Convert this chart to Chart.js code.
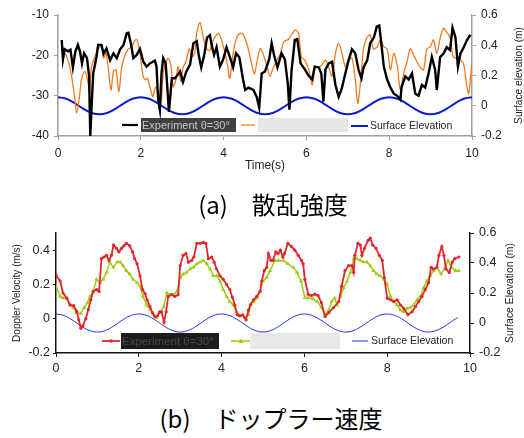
<!DOCTYPE html>
<html>
<head>
<meta charset="utf-8">
<script src="https://cdn.jsdelivr.net/npm/chart.js@4.4.0/dist/chart.umd.min.js"></script>
<style>
  body { margin: 0; background: #fff; width: 524px; height: 438px; position: relative; overflow: hidden; }
  canvas { position: absolute; left: 0; }
  #scatterChart { top: 0; }
  #dopplerChart { top: 220px; }
  .caption {
    position: absolute; transform: translateX(-50%); white-space: nowrap;
    font-family: "Noto Sans CJK JP"; font-size: 24px; line-height: 24px; color: #000;
  }
</style>
</head>
<body>
<canvas id="scatterChart" width="524" height="180"></canvas>
<canvas id="dopplerChart" width="524" height="170"></canvas>
<div class="caption" style="left:273px; top:192px;">(a)　散乱強度</div>
<div class="caption" style="left:271px; top:406px;">(b)　ドップラー速度</div>

<script>
// (a) 散乱強度 - experiment (black)
const expTime = [0.09, 0.12, 0.16, 0.24, 0.30, 0.36, 0.42, 0.48, 0.53, 0.58, 0.63, 0.70, 0.75, 0.78, 0.81, 0.85, 0.93, 0.97,
  1.05, 1.10, 1.17, 1.26, 1.34, 1.42, 1.50, 1.58, 1.66, 1.70, 1.76, 1.82, 1.90, 1.98, 2.06, 2.14, 2.22, 2.34, 2.38, 2.42,
  2.46, 2.50, 2.54, 2.60, 2.64, 2.68, 2.75, 2.83, 2.95, 3.02, 3.10, 3.19, 3.27, 3.35, 3.40, 3.46, 3.53, 3.60, 3.67, 3.71,
  3.77, 3.83, 3.91, 3.99, 4.07, 4.15, 4.23, 4.30, 4.38, 4.47, 4.52, 4.60, 4.72, 4.80, 4.86, 4.92, 5.00, 5.10, 5.16, 5.22,
  5.30, 5.40, 5.48, 5.55, 5.59, 5.64, 5.72, 5.78, 5.86, 5.97, 6.05, 6.14, 6.20, 6.30, 6.36, 6.41, 6.46, 6.54, 6.62, 6.70,
  6.78, 6.86, 6.94, 7.02, 7.10, 7.18, 7.26, 7.33, 7.38, 7.47, 7.54, 7.63, 7.70, 7.76, 7.80, 7.87, 7.95, 8.03, 8.11, 8.19,
  8.27, 8.30, 8.39, 8.47, 8.55, 8.63, 8.71, 8.79, 8.87, 8.95, 9.03, 9.11, 9.15, 9.23, 9.31, 9.39, 9.47, 9.53, 9.60, 9.66,
  9.72, 9.80, 9.88, 9.96];
const expLevel = [-16.2, -21, -18.5, -19, -18.6, -23, -19, -17.4, -19, -22, -19.5, -20.7, -25, -40, -33, -24.5, -20.4, -17.4,
  -17.4, -19.6, -18.3, -21.2, -19.5, -20.7, -18.5, -17.5, -14.5, -14.4, -17, -20.7, -19.9, -18.4, -21.6, -22.8, -22, -21.3, -22.8, -31,
  -33.5, -24.5, -20.7, -22, -27.8, -34, -25.7, -25.7, -24, -26.6, -24, -22.3, -17, -16.5, -20, -23, -20, -15.6, -15, -17.4,
  -19.9, -18, -22.8, -21, -18, -20.4, -23, -19.5, -20.5, -26, -28.6, -28, -28.6, -30.3, -33, -24.5, -24, -21, -17, -20,
  -23, -19.5, -21, -27, -33.5, -24, -16.2, -16, -22, -23.6, -25, -26, -22.8, -23, -24.5, -31.5, -23.5, -22, -21.6, -27.3,
  -30.3, -28, -24.5, -21.2, -18.5, -19.5, -23.6, -25.7, -23, -21.2, -17, -15.6, -12.9, -12.6, -16.2, -22.8, -26, -28, -29.5, -30,
  -31, -27.8, -25.2, -26, -24.5, -29.5, -30, -27.3, -28, -24.5, -20.4, -23.6, -28.6, -20.4, -19.6, -18, -18.7, -13.2, -15.5, -22.8,
  -19.6, -18, -16.2, -14.9];

// (a) simulation (orange)
const simTime = [0.09, 0.17, 0.25, 0.33, 0.41, 0.45, 0.51, 0.57, 0.65, 0.71, 0.76, 0.81, 0.89, 0.97, 1.05, 1.10, 1.16, 1.21,
  1.28, 1.34, 1.40, 1.47, 1.54, 1.62, 1.70, 1.78, 1.86, 1.91, 1.98, 2.05, 2.10, 2.16, 2.22, 2.29, 2.33, 2.38, 2.45, 2.50,
  2.54, 2.61, 2.66, 2.73, 2.78, 2.85, 2.90, 2.97, 3.02, 3.09, 3.17, 3.23, 3.30, 3.35, 3.43, 3.51, 3.59, 3.67, 3.75, 3.88,
  4.00, 4.09, 4.15, 4.23, 4.31, 4.40, 4.47, 4.56, 4.64, 4.74, 4.80, 4.88, 4.95, 5.05, 5.12, 5.20, 5.29, 5.37, 5.45, 5.57,
  5.73, 5.81, 5.88, 5.96, 6.06, 6.14, 6.22, 6.30, 6.38, 6.46, 6.54, 6.62, 6.70, 6.78, 6.86, 6.94, 7.02, 7.10, 7.18, 7.24,
  7.30, 7.38, 7.46, 7.54, 7.62, 7.71, 7.79, 7.87, 7.95, 8.03, 8.11, 8.19, 8.27, 8.35, 8.43, 8.51, 8.59, 8.67, 8.75, 8.83,
  8.91, 8.99, 9.07, 9.15, 9.23, 9.31, 9.39, 9.47, 9.55, 9.67, 9.79, 9.87, 9.92, 10.0];
const simLevel = [-19.9, -19.6, -21.6, -25.2, -31, -34.3, -31, -25.7, -24, -26, -28.6, -22.8, -20.4, -18.4, -17.9, -20.7, -19.5, -22.8,
  -28.6, -24, -23.6, -29, -22.8, -19.9, -18.4, -18, -16.2, -16.2, -19.5, -24.9, -26, -25.7, -27.8, -30.3, -28.6, -27.8, -33.3, -31,
  -24.5, -21.6, -20.7, -22.8, -27.8, -26, -22.8, -26.6, -23, -21.6, -18.4, -20.3, -19.6, -14.5, -11.9, -15.6, -18.4, -18.8, -16.2, -14.6,
  -18, -22.2, -25.7, -19.5, -15.8, -14.5, -14.8, -17, -20.4, -24.5, -22, -18.3, -19.5, -22.8, -25.2, -23, -21.2, -19.6, -16.7, -16,
  -13.7, -14.5, -20.4, -21.2, -23.6, -27.3, -22.8, -23, -22.3, -21.2, -23, -25.2, -19.5, -17, -19.5, -22.8, -21.2, -20.7, -26, -31.9,
  -27.3, -18.4, -15.6, -15, -18.4, -17.9, -16.2, -17.9, -18.4, -23.6, -19.5, -22.3, -28.6, -24.5, -21.6, -18.4, -19.9, -21.6, -23, -23.6,
  -18.4, -17.9, -16.2, -19.5, -15.8, -13.3, -14.3, -15.6, -20.4, -20.8, -22, -27.3, -29.5, -21.6];

// surface elevation (blue), both panels
const waveTime = [0, 0.2, 0.4, 0.6, 0.8, 1.0, 1.2, 1.4, 1.6, 1.8, 2.0, 2.2, 2.4, 2.6, 2.8, 3.0, 3.2, 3.4, 3.6, 3.8,
  4.0, 4.2, 4.4, 4.6, 4.8, 5.0, 5.2, 5.4, 5.6, 5.8, 6.0, 6.2, 6.4, 6.6, 6.8, 7.0, 7.2, 7.4, 7.6, 7.8,
  8.0, 8.2, 8.4, 8.6, 8.8, 9.0, 9.2, 9.4, 9.6, 9.8, 10.0];
const waveTop = [0.057, 0.046, 0.018, -0.018, -0.046, -0.057, -0.046, -0.018, 0.018, 0.046,
  0.057, 0.046, 0.018, -0.018, -0.046, -0.057, -0.046, -0.018, 0.018, 0.046,
  0.057, 0.046, 0.018, -0.018, -0.046, -0.057, -0.046, -0.018, 0.018, 0.046,
  0.057, 0.046, 0.018, -0.018, -0.046, -0.057, -0.046, -0.018, 0.018, 0.046,
  0.057, 0.046, 0.018, -0.018, -0.046, -0.057, -0.046, -0.018, 0.018, 0.046, 0.057];
const waveTime2 = [0, 0.2, 0.4, 0.6, 0.8, 1.0, 1.2, 1.4, 1.6, 1.8, 2.0, 2.2, 2.4, 2.6, 2.8, 3.0, 3.2, 3.4, 3.6, 3.8,
  4.0, 4.2, 4.4, 4.6, 4.8, 5.0, 5.2, 5.4, 5.6, 5.8, 6.0, 6.2, 6.4, 6.6, 6.8, 7.0, 7.2, 7.4, 7.6, 7.8,
  8.0, 8.2, 8.4, 8.6, 8.8, 9.0, 9.2, 9.4, 9.6, 9.7];
const waveBottom = [0.06, 0.049, 0.019, -0.019, -0.049, -0.06, -0.049, -0.019, 0.019, 0.049,
  0.06, 0.049, 0.019, -0.019, -0.049, -0.06, -0.049, -0.019, 0.019, 0.049,
  0.06, 0.049, 0.019, -0.019, -0.049, -0.06, -0.049, -0.019, 0.019, 0.049,
  0.06, 0.049, 0.019, -0.019, -0.049, -0.06, -0.049, -0.019, 0.019, 0.049,
  0.06, 0.049, 0.019, -0.019, -0.049, -0.06, -0.049, -0.019, 0.019, 0.035];

// (b) ドップラー速度 - experiment (red)
const dopTime = [0, 0.1, 0.17, 0.26, 0.34, 0.43, 0.5, 0.55, 0.6, 0.65, 0.72, 0.78, 0.84, 0.9, 0.98, 1.04, 1.1, 1.16, 1.22,
  1.28, 1.34, 1.39, 1.46, 1.52, 1.58, 1.64, 1.7, 1.78, 1.85, 1.9, 1.96, 2.03, 2.09, 2.15, 2.2, 2.27, 2.33, 2.39, 2.45,
  2.5, 2.55, 2.61, 2.66, 2.71, 2.8, 2.87, 2.95, 3.0, 3.07, 3.14, 3.2, 3.28, 3.33, 3.4, 3.48, 3.56, 3.62, 3.68, 3.76,
  3.82, 3.88, 3.96, 4.04, 4.12, 4.2, 4.26, 4.32, 4.38, 4.44, 4.51, 4.59, 4.65, 4.7, 4.77, 4.85, 4.93, 4.97, 5.03, 5.09,
  5.13, 5.19, 5.24, 5.31, 5.36, 5.42, 5.48, 5.52, 5.6, 5.69, 5.77, 5.85, 5.93, 5.97, 6.01, 6.09, 6.17, 6.25, 6.33, 6.41,
  6.5, 6.59, 6.7, 6.83, 6.9, 6.98, 7.07, 7.15, 7.19, 7.22, 7.29, 7.35, 7.39, 7.45, 7.54, 7.59, 7.65, 7.73, 7.81, 7.88,
  7.93, 8.0, 8.08, 8.16, 8.24, 8.32, 8.4, 8.5, 8.6, 8.68, 8.76, 8.84, 8.92, 9.0, 9.06, 9.12, 9.2, 9.25, 9.32, 9.37,
  9.42, 9.5, 9.57, 9.63, 9.73];
const dopExp = [0.254, 0.22, 0.15, 0.12, 0.08, 0.076, 0.043, -0.006, -0.055, -0.04, 0, 0.053, 0.11, 0.16, 0.17, 0.16, 0.35, 0.36, 0.37,
  0.34, 0.37, 0.43, 0.41, 0.39, 0.41, 0.425, 0.44, 0.425, 0.39, 0.35, 0.32, 0.25, 0.17, 0.147, 0.11, 0.07, 0.035, 0.011, 0.017,
  0.04, 0.04, -0.02, 0.04, 0.13, 0.14, 0.13, 0.14, 0.31, 0.37, 0.38, 0.33, 0.34, 0.36, 0.44, 0.44, 0.445, 0.44, 0.35, 0.36,
  0.33, 0.29, 0.25, 0.23, 0.2, 0.17, 0.125, 0.08, 0.023, 0.017, 0.023, -0.006, 0.05, 0.083, 0.11, 0.13, 0.16, 0.22, 0.28, 0.3,
  0.38, 0.34, 0.34, 0.39, 0.38, 0.4, 0.36, 0.38, 0.44, 0.42, 0.4, 0.37, 0.34, 0.32, 0.23, 0.143, 0.135, 0.143, 0.135, 0.094,
  0.013, 0.035, 0.064, 0.1, 0.19, 0.28, 0.31, 0.31, 0.27, 0.37, 0.44, 0.43, 0.37, 0.41, 0.457, 0.47, 0.43, 0.41, 0.37, 0.34,
  0.24, 0.12, 0.11, 0.1, 0.11, 0.08, 0.06, 0.023, 0.04, 0.07, 0.1, 0.13, 0.17, 0.21, 0.3, 0.29, 0.3, 0.37, 0.42, 0.37,
  0.29, 0.27, 0.33, 0.35, 0.36];

// (b) simulation (green)
const dopSimTime = [0, 0.1, 0.17, 0.26, 0.34, 0.42, 0.5, 0.6, 0.68, 0.76, 0.82, 0.9, 0.98, 1.06, 1.14, 1.22, 1.3, 1.38, 1.48,
  1.55, 1.62, 1.7, 1.78, 1.86, 1.96, 2.03, 2.1, 2.19, 2.27, 2.35, 2.43, 2.51, 2.6, 2.68, 2.76, 2.84, 2.92, 3.0, 3.07,
  3.15, 3.24, 3.32, 3.4, 3.48, 3.56, 3.64, 3.72, 3.8, 3.88, 3.96, 4.04, 4.12, 4.2, 4.28, 4.36, 4.44, 4.56, 4.65, 4.7,
  4.78, 4.86, 4.93, 5.0, 5.09, 5.17, 5.29, 5.37, 5.49, 5.6, 5.73, 5.82, 5.92, 6.01, 6.1, 6.21, 6.31, 6.41, 6.5, 6.59,
  6.66, 6.73, 6.79, 6.87, 6.95, 7.03, 7.11, 7.19, 7.27, 7.35, 7.43, 7.51, 7.59, 7.67, 7.75, 7.83, 7.92, 8.0, 8.08, 8.16,
  8.24, 8.32, 8.4, 8.48, 8.56, 8.64, 8.72, 8.8, 8.88, 8.96, 9.04, 9.12, 9.2, 9.3, 9.4, 9.47, 9.55, 9.65, 9.73];
const dopSim = [0.19, 0.13, 0.12, 0.12, 0.08, 0.064, 0.035, 0.03, 0.064, 0.094, 0.13, 0.16, 0.23, 0.21, 0.23, 0.27, 0.33, 0.3, 0.33,
  0.33, 0.31, 0.28, 0.26, 0.23, 0.21, 0.19, 0.13, 0.08, 0.054, 0.023, 0.007, 0.035, 0.07, 0.15, 0.14, 0.14, 0.16, 0.24, 0.26,
  0.27, 0.29, 0.3, 0.32, 0.33, 0.34, 0.32, 0.29, 0.25, 0.25, 0.22, 0.17, 0.13, 0.1, 0.08, 0.04, 0.017, 0.007, 0.023, 0.08,
  0.1, 0.12, 0.16, 0.22, 0.24, 0.28, 0.34, 0.34, 0.34, 0.32, 0.3, 0.27, 0.22, 0.124, 0.124, 0.115, 0.1, 0.065, 0.023, 0.05,
  0.1, 0.12, 0.08, 0.13, 0.18, 0.22, 0.27, 0.35, 0.35, 0.34, 0.33, 0.33, 0.31, 0.28, 0.26, 0.25, 0.23, 0.2, 0.13, 0.1,
  0.08, 0.05, 0.04, 0.06, 0.066, 0.08, 0.11, 0.13, 0.18, 0.22, 0.25, 0.28, 0.3, 0.26, 0.3, 0.34, 0.3, 0.28, 0.28];

const xTicks = [0, 2, 4, 6, 8, 10];

const toPoints = (xs, ys) => xs.map((x, i) => ({ x: x, y: ys[i] }));

const tickFont = { family: '"Liberation Sans", Arial, sans-serif', size: 12 };

// leyenda y título derecho dibujados a mano (el título lee de abajo a arriba)
const drawLegendLine = (ctx, x1, x2, y, color, width) => {
    ctx.strokeStyle = color;
    ctx.lineWidth = width;
    ctx.beginPath();
    ctx.moveTo(x1, y);
    ctx.lineTo(x2, y);
    ctx.stroke();
};

const drawRightTitle = (ctx, text, x, y, size) => {
    ctx.save();
    ctx.translate(x, y);
    ctx.rotate(-Math.PI / 2);
    ctx.fillStyle = '#222';
    ctx.font = size + 'px "Liberation Sans", Arial, sans-serif';
    ctx.textAlign = 'center';
    ctx.textBaseline = 'middle';
    ctx.fillText(text, 0, 0);
    ctx.restore();
};

const scatterOverlay = {
    id: 'scatterOverlay',
    afterDraw(chart) {
        const ctx = chart.ctx;
        const area = chart.chartArea;
        ctx.save();
        drawLegendLine(ctx, 122, 138, 125, '#000', 2.2);
        ctx.fillStyle = '#404040';
        ctx.fillRect(141, 118, 95, 14);
        ctx.fillStyle = '#c8c8c8';
        ctx.font = '11px "Liberation Sans", Arial, sans-serif';
        ctx.textBaseline = 'middle';
        ctx.fillText('Experiment θ=30°', 142, 125.5);
        drawLegendLine(ctx, 241, 255, 125, '#f47a1f', 1.3);
        ctx.fillStyle = '#e6e6e6';
        ctx.fillRect(258, 118, 90, 14);
        drawLegendLine(ctx, 351, 368, 126, '#0a1ad0', 2);
        ctx.fillStyle = '#222';
        ctx.font = '10.5px "Liberation Sans", Arial, sans-serif';
        ctx.fillText('Surface Elevation', 370, 126.5);
        drawRightTitle(ctx, 'Surface elevation (m)', 519, (area.top + area.bottom) / 2, 10.2);
        ctx.restore();
    }
};

const dopplerOverlay = {
    id: 'dopplerOverlay',
    afterDraw(chart) {
        const ctx = chart.ctx;
        const area = chart.chartArea;
        ctx.save();
        drawLegendLine(ctx, 102, 120, 121, '#e3262e', 1.8);
        ctx.fillStyle = '#e3262e';
        ctx.beginPath();
        ctx.arc(111, 121, 1.8, 0, Math.PI * 2);
        ctx.fill();
        ctx.fillStyle = '#1c1c1c';
        ctx.fillRect(121, 113, 98, 16);
        ctx.fillStyle = '#4a4a4a';
        ctx.font = '11.5px "Liberation Sans", Arial, sans-serif';
        ctx.textBaseline = 'middle';
        ctx.fillText('Experiment θ=30°', 122, 121.5);
        drawLegendLine(ctx, 231, 250, 121, '#9ccc14', 1.5);
        ctx.fillStyle = '#9ccc14';
        ctx.beginPath();
        ctx.moveTo(241, 118.5);
        ctx.lineTo(243.5, 123);
        ctx.lineTo(238.5, 123);
        ctx.closePath();
        ctx.fill();
        ctx.fillStyle = '#e8e8e8';
        ctx.fillRect(250, 113, 90, 16);
        drawLegendLine(ctx, 352, 368, 121, '#1d35e0', 1);
        ctx.fillStyle = '#222';
        ctx.font = '10.5px "Liberation Sans", Arial, sans-serif';
        ctx.fillText('Surface Elevation', 371, 121.5);
        drawRightTitle(ctx, 'Surface Elevation (m)', 510, (area.top + area.bottom) / 2, 10.4);
        ctx.restore();
    }
};

const xAxis = (axisColor, height, pad, title) => ({
    type: 'linear',
    min: 0,
    max: 10,
    afterBuildTicks: s => { s.ticks = xTicks.map(v => ({ value: v })); },
    ticks: { font: tickFont, color: '#222', padding: pad, maxRotation: 0 },
    grid: { drawOnChartArea: false, tickLength: 4, color: axisColor },
    border: { color: axisColor, width: 1.5 },
    title: title,
    afterFit: s => { s.height = height; }
});

// Gráfico (a)
new Chart(document.getElementById('scatterChart'), {
    type: 'line',
    data: {
        datasets: [
            { label: 'Experiment θ=30°', data: toPoints(expTime, expLevel), borderColor: '#000', borderWidth: 2.4,
              pointRadius: 0, tension: 0, yAxisID: 'y' },
            { label: '', data: toPoints(simTime, simLevel), borderColor: '#f47a1f', borderWidth: 1.3,
              pointRadius: 0, tension: 0.3, yAxisID: 'y' },
            { label: 'Surface Elevation', data: toPoints(waveTime, waveTop), borderColor: '#0a1ad0', borderWidth: 2,
              pointRadius: 0, tension: 0.4, yAxisID: 'y1' }
        ]
    },
    options: {
        responsive: false,
        animation: false,
        layout: { padding: { top: 15, left: 0, right: 0, bottom: 0 } },
        plugins: { legend: { display: false }, tooltip: { enabled: false } },
        scales: {
            x: xAxis('#a0a0a0', 44, 6, {
                display: true, text: 'Time(s)', color: '#222', font: tickFont, padding: { top: 0, bottom: 7 }
            }),
            y: {
                position: 'left', min: -40, max: -10,
                ticks: { stepSize: 10, font: tickFont, color: '#222', padding: 5 },
                grid: { drawOnChartArea: false, tickLength: 4, color: '#a0a0a0' },
                border: { color: '#a0a0a0', width: 1.5 },
                afterFit: s => { s.width = 58; }
            },
            y1: {
                position: 'right', min: -0.2, max: 0.6,
                ticks: { stepSize: 0.2, font: tickFont, color: '#222', padding: 5 },
                grid: { drawOnChartArea: false, tickLength: 4, color: '#a0a0a0' },
                border: { color: '#a0a0a0', width: 1.5 },
                afterFit: s => { s.width = 52; }
            }
        }
    },
    plugins: [scatterOverlay]
});

// Gráfico (b)
const tickFontB = { family: '"Liberation Sans", Arial, sans-serif', size: 12.5 };
new Chart(document.getElementById('dopplerChart'), {
    type: 'line',
    data: {
        datasets: [
            { label: 'Experiment θ=30°', data: toPoints(dopTime, dopExp), borderColor: '#e3262e', backgroundColor: '#e3262e',
              borderWidth: 1.8, pointRadius: 1.6, pointBorderWidth: 0, tension: 0, yAxisID: 'y' },
            { label: '', data: toPoints(dopSimTime, dopSim), borderColor: '#9ccc14', backgroundColor: '#9ccc14',
              borderWidth: 1.5, pointStyle: 'triangle', pointRadius: 2.4, pointBorderWidth: 0, tension: 0, yAxisID: 'y' },
            { label: 'Surface Elevation', data: toPoints(waveTime2, waveBottom), borderColor: '#1d35e0', borderWidth: 1,
              pointRadius: 0, tension: 0.4, yAxisID: 'y1' }
        ]
    },
    options: {
        responsive: false,
        animation: false,
        layout: { padding: { top: 13, left: 0, right: 0, bottom: 0 } },
        plugins: { legend: { display: false }, tooltip: { enabled: false } },
        scales: {
            x: Object.assign(xAxis('#111', 37, 4, { display: false }), { ticks: { font: tickFontB, color: '#222', padding: 4, maxRotation: 0 } }),
            y: {
                position: 'left', min: -0.2, max: 0.5,
                ticks: { stepSize: 0.2, includeBounds: false, font: tickFontB, color: '#222', padding: 3 },
                grid: { drawOnChartArea: false, tickLength: 3, color: '#111' },
                border: { color: '#111', width: 1.5 },
                title: { display: true, text: 'Doppler Velocity (m/s)', color: '#222',
                         font: { family: '"Liberation Sans", Arial, sans-serif', size: 10 }, padding: { top: 11, bottom: 0 } },
                afterFit: s => { s.width = 56; }
            },
            y1: {
                position: 'right', min: -0.2, max: 0.6,
                ticks: { stepSize: 0.2, font: tickFontB, color: '#222', padding: 5 },
                grid: { drawOnChartArea: false, tickLength: 4, color: '#111' },
                border: { color: '#111', width: 1.5 },
                afterFit: s => { s.width = 54; }
            }
        }
    },
    plugins: [dopplerOverlay]
});
</script>
</body>
</html>
